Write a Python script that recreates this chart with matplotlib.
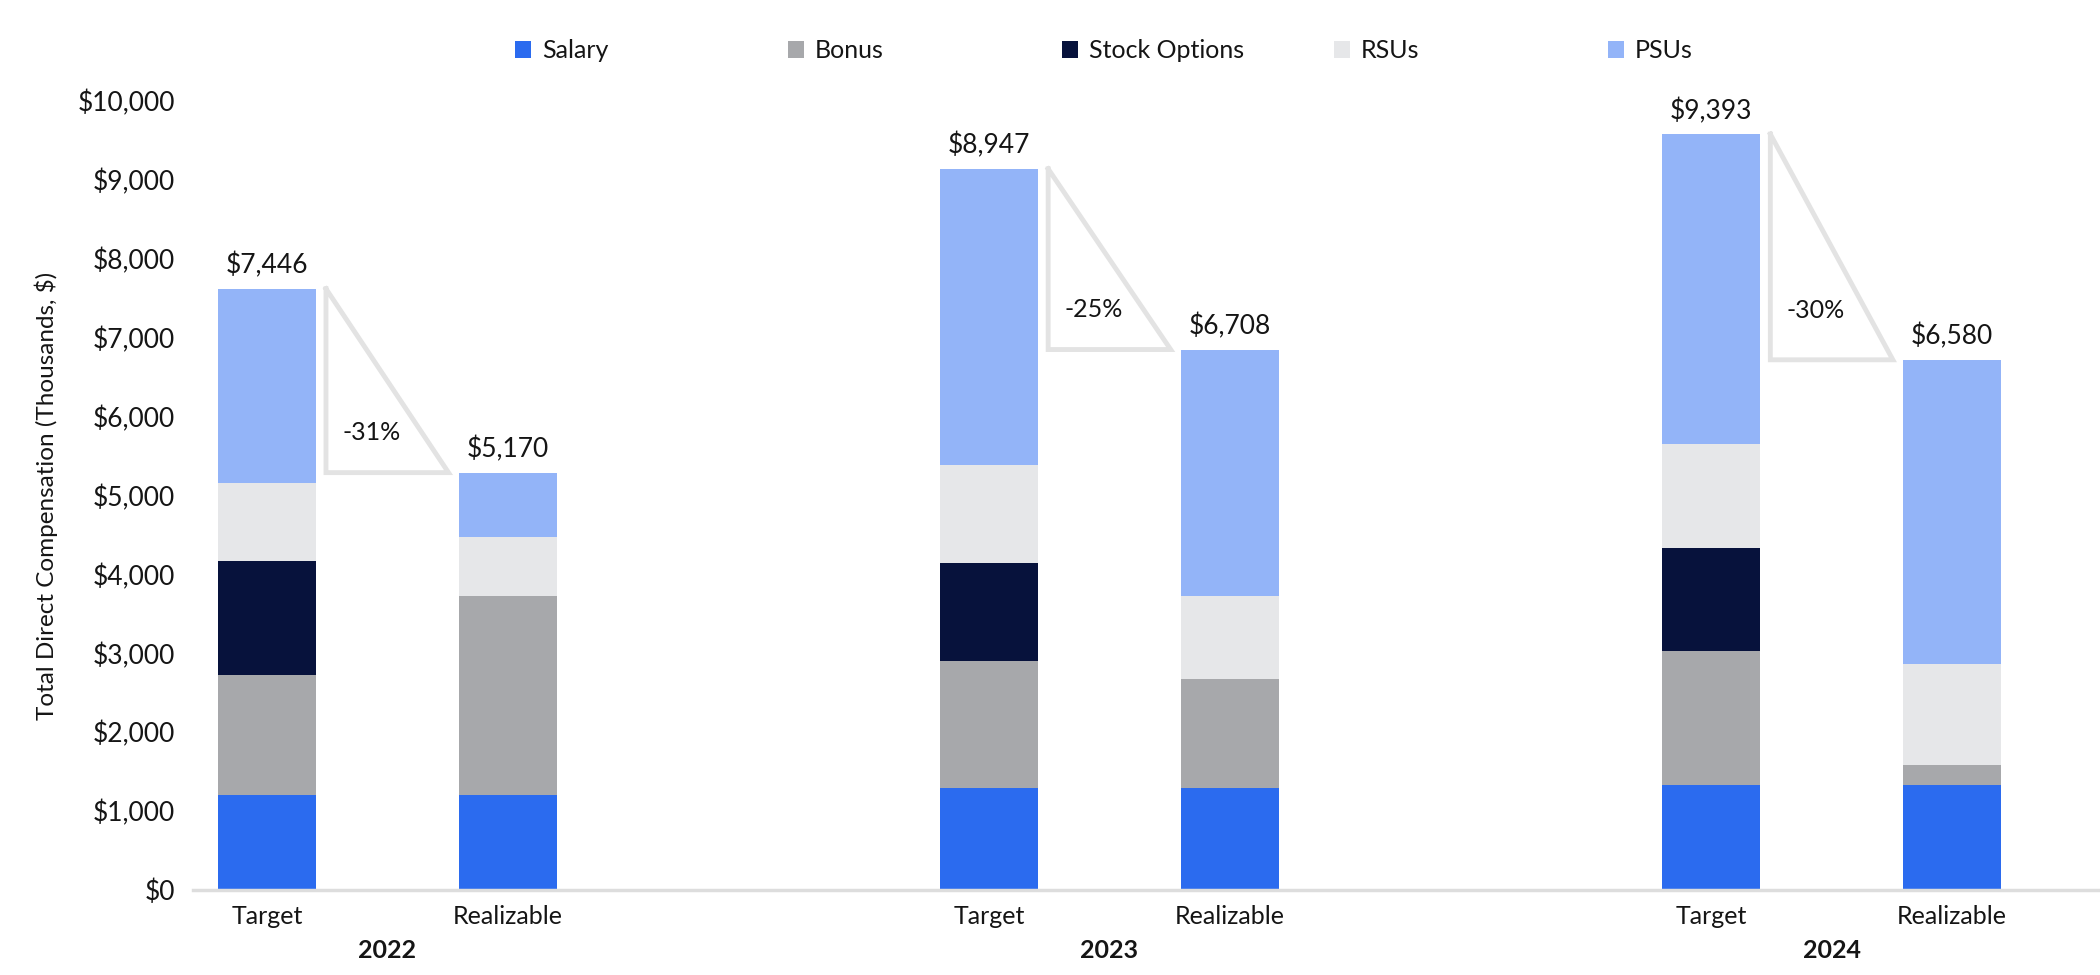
import matplotlib
matplotlib.use("Agg")
import matplotlib.pyplot as plt
from matplotlib.ticker import StrMethodFormatter

# ===== Data (thousands of $) =====
years = ["2022", "2023", "2024"]
bar_kinds = ["Target", "Realizable"]
components = ["Salary", "Bonus", "Stock Options", "RSUs", "PSUs"]

# order of bars: T22, R22, T23, R23, T24, R24
salary = [1200, 1200, 1290, 1290, 1335, 1335]
bonus = [1530, 2530, 1610, 1380, 1695, 255]
stock_options = [1440, 0, 1240, 0, 1310, 0]
rsus = [990, 750, 1250, 1050, 1310, 1280]
psus = [2460, 810, 3750, 3130, 3930, 3850]

target_totals = [7446, 8947, 9393]
realizable_totals = [5170, 6708, 6580]

colors = ["#2b6bef", "#a7a8ab", "#07123c", "#e6e7e9", "#93b4f8"]

plt.rcParams["font.family"] = ["Lato", "DejaVu Sans"]
text_color = "#151515"

# ===== Figure =====
fig = plt.figure(figsize=(21, 9.75), dpi=100)
ax = fig.add_axes([0.0919, 0.0872, 0.9081, 0.8092])

x_pos = [0, 1, 3, 4, 6, 7]
width = 0.407
series = [salary, bonus, stock_options, rsus, psus]
bottoms = [0] * len(x_pos)
handles = []
for name, vals, col in zip(components, series, colors):
    bars = ax.bar(x_pos, vals, width, bottom=bottoms, color=col, label=name, linewidth=0)
    handles.append(bars)
    bottoms = [b + v for b, v in zip(bottoms, vals)]
tops = bottoms

ax.set_ylim(0, 10000)
ax.set_xlim(-0.307, 7.615)

# total labels
all_totals = []
for t, r in zip(target_totals, realizable_totals):
    all_totals += [t, r]
for x, top, tot in zip(x_pos, tops, all_totals):
    ax.annotate(f"${tot:,}", (x, top), xytext=(0, 11), textcoords="offset points",
                ha="center", va="baseline", fontsize=19, color=text_color)

# triangles with % change
gap = 0.042
for g in range(len(years)):
    xt, xr = x_pos[2 * g], x_pos[2 * g + 1]
    yt, yr = tops[2 * g], tops[2 * g + 1]
    x0 = xt + width / 2 + gap
    x1 = xr - width / 2 - gap
    ax.plot([x0, x0, x1, x0], [yt, yr, yr, yt], color="#e3e3e3", lw=3.5,
            solid_joinstyle="miter", clip_on=False, zorder=1)
    pct = round((realizable_totals[g] / target_totals[g] - 1) * 100)
    ax.text(x0 + 0.37 * (x1 - x0), yt - 0.78 * (yt - yr), f"{pct}%",
            ha="center", va="center", fontsize=18, color=text_color)

# axes styling
for s in ["top", "right", "left"]:
    ax.spines[s].set_visible(False)
ax.spines["bottom"].set_color("#dddddd")
ax.spines["bottom"].set_linewidth(2.5)
ax.yaxis.set_major_formatter(StrMethodFormatter("${x:,.0f}"))
ax.set_yticks(range(0, 10001, 1000))
ax.tick_params(axis="y", length=0, pad=13, labelsize=19, labelcolor=text_color)
ax.set_xticks(x_pos)
ax.set_xticklabels(bar_kinds * len(years))
ax.tick_params(axis="x", length=0, pad=11, labelsize=18, labelcolor=text_color)

for g, yr in enumerate(years):
    ax.text((x_pos[2 * g] + x_pos[2 * g + 1]) / 2, -0.077, yr,
            transform=ax.get_xaxis_transform(), ha="center", va="center",
            fontsize=18, fontweight="bold", color=text_color)

ax.set_ylabel("Total Direct Compensation (Thousands, $)", fontsize=17.5, color=text_color)
ax.yaxis.set_label_coords(-0.071, 0.5)

# legend: evenly spaced entries
legend_x = [515, 788, 1062, 1334, 1608]
for h, name, lx in zip(handles, components, legend_x):
    fig.legend([h], [name], loc="center left", bbox_to_anchor=(lx / 2100, 0.948),
               frameon=False, fontsize=18, handlelength=0.62, handleheight=0.7,
               handletextpad=0.45, borderpad=0, borderaxespad=0, labelcolor=text_color)

fig.savefig("out.png", dpi=100)
